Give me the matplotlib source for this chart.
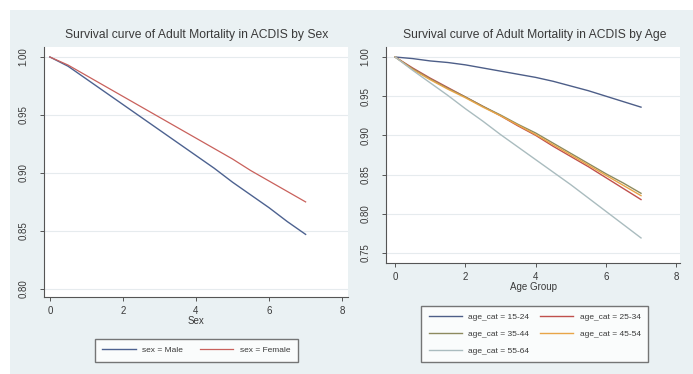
import matplotlib
matplotlib.use("Agg")
import matplotlib.pyplot as plt
from matplotlib.patches import Rectangle

plt.rcParams["font.family"] = ["Liberation Sans", "DejaVu Sans"]

# analysis time (years)
t = [0, 0.5, 1, 1.5, 2, 2.5, 3, 3.5, 4, 4.5, 5, 5.5, 6, 6.5, 7]

# survival by sex
male = [1.000, 0.992, 0.981, 0.970, 0.959, 0.948, 0.937, 0.926,
        0.915, 0.904, 0.892, 0.881, 0.870, 0.858, 0.847]
female = [1.000, 0.993, 0.984, 0.975, 0.966, 0.957, 0.948, 0.939,
          0.930, 0.921, 0.912, 0.902, 0.893, 0.884, 0.875]

# survival by age group
age_15_24 = [1.000, 0.998, 0.995, 0.993, 0.990, 0.986, 0.982, 0.978,
             0.974, 0.969, 0.963, 0.957, 0.950, 0.943, 0.936]
age_25_34 = [1.000, 0.986, 0.973, 0.961, 0.949, 0.937, 0.925, 0.912,
             0.900, 0.886, 0.873, 0.860, 0.846, 0.832, 0.818]
age_35_44 = [1.000, 0.985, 0.972, 0.960, 0.949, 0.937, 0.926, 0.914,
             0.903, 0.890, 0.877, 0.864, 0.851, 0.839, 0.826]
age_45_54 = [1.000, 0.984, 0.971, 0.959, 0.948, 0.936, 0.925, 0.913,
             0.901, 0.888, 0.875, 0.862, 0.849, 0.836, 0.823]
age_55_64 = [1.000, 0.983, 0.967, 0.951, 0.934, 0.918, 0.901, 0.885,
             0.869, 0.853, 0.837, 0.820, 0.803, 0.786, 0.769]

sex_labels = ["sex = Male", "sex = Female"]
age_labels = ["age_cat = 15-24", "age_cat = 25-34", "age_cat = 35-44",
              "age_cat = 45-54", "age_cat = 55-64"]

W, H = 693, 374
BG = "#eaf1f3"
AX_COL = "#555555"
TXT = "#3a3a3a"


def px_axes(fig, x0, y0, x1, y1):
    # pixel box (top-left origin) -> figure axes
    return fig.add_axes([x0 / W, 1 - y1 / H, (x1 - x0) / W, (y1 - y0) / H])


def style(ax, yticks, ylabels):
    ax.set_facecolor("white")
    for s in ("top", "right"):
        ax.spines[s].set_visible(False)
    for s in ("left", "bottom"):
        ax.spines[s].set_color(AX_COL)
        ax.spines[s].set_linewidth(0.8)
    ax.set_xticks([0, 2, 4, 6, 8])
    ax.set_yticks(yticks)
    ax.set_yticklabels(ylabels, rotation=90, va="center")
    ax.tick_params(colors=AX_COL, labelcolor=TXT, labelsize=7, length=3, width=0.7)
    ax.tick_params(axis="y", pad=8)
    ax.grid(axis="y", color="#e6ebee", linewidth=0.8)
    ax.set_axisbelow(True)


fig = plt.figure(figsize=(W / 100, H / 100), dpi=100, facecolor="white")
fig.patches.append(Rectangle((10 / W, 0), 1, 1 - 10 / H, transform=fig.transFigure,
                             facecolor=BG, edgecolor="none", zorder=-10))

leg_kw = dict(loc="center", bbox_transform=fig.transFigure, ncol=2, fontsize=6,
              frameon=True, fancybox=False, edgecolor=AX_COL, handlelength=4,
              labelcolor=TXT)

# ---- left: by sex ----
ax1 = px_axes(fig, 44, 47, 348, 297)
ax1.plot(t, male, color="#4d6290", lw=1.0, label=sex_labels[0])
ax1.plot(t, female, color="#c9615c", lw=0.9, label=sex_labels[1])
ax1.set_xlim(-0.16, 8.16)
ax1.set_ylim(0.793, 1.0086)
style(ax1, [0.80, 0.85, 0.90, 0.95, 1.00], ["0.80", "0.85", "0.90", "0.95", "1.00"])
ax1.set_xlabel("Sex", fontsize=7, color=TXT, labelpad=0)
fig.text(197 / W, 1 - 35 / H, "Survival curve of Adult Mortality in ACDIS by Sex",
         ha="center", va="center", fontsize=8.7, color=TXT)
ax1.legend(bbox_to_anchor=(196.5 / W, 1 - 350.5 / H), columnspacing=2.0,
           borderpad=0.9, **leg_kw)

# ---- right: by age ----
ax2 = px_axes(fig, 386, 47, 680, 263)
c15 = ax2.plot(t, age_15_24, color="#4d5e88", lw=1.0)[0]
c25 = ax2.plot(t, age_25_34, color="#c0504d", lw=1.0)[0]
c35 = ax2.plot(t, age_35_44, color="#8d8a5e", lw=1.0)[0]
c45 = ax2.plot(t, age_45_54, color="#e8a547", lw=1.0)[0]
c55 = ax2.plot(t, age_55_64, color="#aabcbf", lw=1.0)[0]
ax2.set_xlim(-0.26, 8.11)
ax2.set_ylim(0.737, 1.0128)
style(ax2, [0.75, 0.80, 0.85, 0.90, 0.95, 1.00],
      ["0.75", "0.80", "0.85", "0.90", "0.95", "1.00"])
ax2.set_xlabel("Age Group", fontsize=7, color=TXT, labelpad=0)
fig.text(535 / W, 1 - 35 / H, "Survival curve of Adult Mortality in ACDIS by Age",
         ha="center", va="center", fontsize=8.7, color=TXT)
ax2.legend([c15, c35, c55, c25, c45],
           [age_labels[0], age_labels[2], age_labels[4], age_labels[1], age_labels[3]],
           bbox_to_anchor=(534.5 / W, 1 - 334 / H), columnspacing=1.2,
           borderpad=0.9, labelspacing=1.1, **leg_kw)

fig.savefig("out.png", dpi=100, facecolor=fig.get_facecolor())
